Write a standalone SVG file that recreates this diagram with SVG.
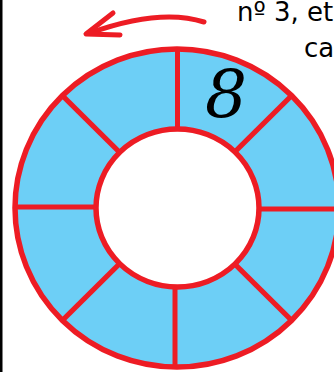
<svg xmlns="http://www.w3.org/2000/svg" width="334" height="372" viewBox="0 0 334 372">
<style>
.red{stroke:#ED1C24;stroke-width:5;fill:none}
.txt{font-family:"DejaVu Sans",sans-serif;font-size:26px;fill:#000}
</style>
<rect x="0" y="0" width="334" height="372" fill="#fff"/>
<rect x="0" y="0" width="2.5" height="372" fill="#000"/>
<g id="ring">
<ellipse cx="177" cy="208" rx="162" ry="159" fill="#6DCFF6" stroke="#ED1C24" stroke-width="5.5"/>
</g>
<g id="connectors" class="red">
<line x1="177.5" y1="49" x2="177.5" y2="129"/>
<line x1="175" y1="287" x2="175" y2="367"/>
<line x1="15" y1="207" x2="96" y2="207"/>
<line x1="258" y1="209" x2="340" y2="209"/>
<line x1="62.4" y1="95.6" x2="119.4" y2="152.1"/>
<line x1="291.6" y1="95.6" x2="234.6" y2="152.1"/>
<line x1="62.4" y1="320.4" x2="119.4" y2="263.9"/>
<line x1="291.6" y1="320.4" x2="234.6" y2="263.9"/>
</g>
<g id="hole">
<ellipse cx="177.5" cy="208" rx="81.5" ry="79" fill="#fff" stroke="#ED1C24" stroke-width="5.5"/>
</g>
<g id="label8">
<text x="226" y="117" font-family="DejaVu Serif, serif" font-style="italic" font-size="66" text-anchor="middle" fill="#000">8</text>
</g>
<g id="arrow" class="red" stroke-linecap="round" stroke-linejoin="round">
<path d="M204,22 Q160,8 90,33"/>
<path d="M113,13 L86,34 L120,35"/>
</g>
<g id="caption">
<text class="txt" x="237" y="21">nº 3, et</text>
<text class="txt" x="304" y="57">ca</text>
</g>
</svg>
